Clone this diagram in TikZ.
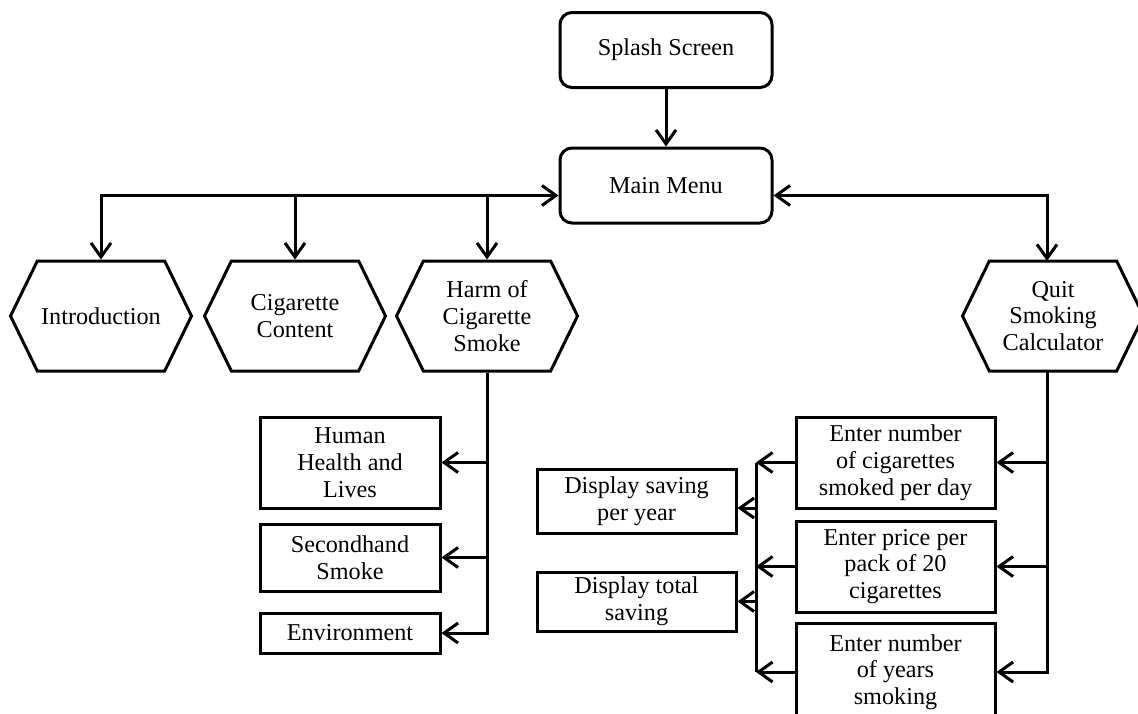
\documentclass[tikz,border=0pt]{standalone}
\usepackage{fontspec}
\setmainfont{Liberation Serif}
\usetikzlibrary{arrows.meta,shapes.symbols}

\begin{document}
\begin{tikzpicture}[x=0.5pt, y=-0.5pt, line width=1.5pt,
    font=\fontsize{12.1}{13.4}\selectfont,
    menubox/.style={draw, rounded corners=6pt, minimum width=106pt, minimum height=37.5pt, align=center, inner sep=0pt},
    hexbox/.style={draw, shape=signal, signal to=west and east, signal pointer angle=128, minimum width=90.5pt, minimum height=55pt, align=center, inner sep=0pt},
    itembox/.style={draw, align=center, inner sep=0pt, minimum width=#1},
    barb/.tip={Straight Barb[length=7pt,width=10pt]},
    arr/.style={-barb}]

            \clip (0,0) rectangle (1138,713);

            % top of the menu
            \node[menubox] (splash) at (666,50) {Splash Screen};
            \node[menubox] (main) at (666,185.5) {Main Menu};
            \draw[arr] (splash.south) -- (main.north);

            % sections
            \node[hexbox] (intro) at (101,316) {Introduction};
            \node[hexbox] (cig) at (295,316) {Cigarette\\Content};
            \node[hexbox] (harm) at (487,316) {Harm of\\Cigarette\\Smoke};
            \node[hexbox] (quit) at (1053,316) {Quit\\Smoking\\Calculator};

            \coordinate (mleft) at ([yshift=-5pt]main.west);
            \coordinate (mright) at ([yshift=-5pt]main.east);
            \coordinate (qtop) at (1047,261);
            \coordinate (qbot) at (1047,371);

            \draw[barb-barb] (mleft) -| (intro.north);
            \draw[arr] (cig.north |- mleft) -- (cig.north);
            \draw[arr] (harm.north |- mleft) -- (harm.north);
            \draw[barb-barb] (mright) -| (qtop);

            % harm of cigarette smoke
            \node[itembox=90pt, minimum height=45.5pt] (hh) at (350,462.5) {Human\\Health and\\Lives};
            \node[itembox=90pt, minimum height=33.5pt] (sh) at (350,557.5) {Secondhand\\Smoke};
            \node[itembox=90pt, minimum height=20pt] (env) at (350,633) {Environment};

            \draw[arr] (harm.south) |- (hh.east);
            \draw[arr] (harm.south) |- (sh.east);
            \draw[arr] (harm.south) |- (env.east);

            % quit smoking calculator
            \node[itembox=99.5pt, minimum height=45.5pt] (en1) at (895.5,462.5) {Enter number\\of cigarettes\\smoked per day};
            \node[itembox=99.5pt, minimum height=45.5pt] (en2) at (895.5,566.5) {Enter price per\\pack of 20\\cigarettes};
            \node[itembox=99.5pt, minimum height=49pt] (en3) at (895.5,672) {Enter number\\of years\\smoking};

            \node[itembox=99.5pt, minimum height=32pt] (ds) at (636.5,501) {Display saving\\per year};
            \node[itembox=99.5pt, minimum height=29.5pt] (dt) at (636.5,601.5) {Display total\\saving};

            \draw[arr] (qbot) |- (en1.east);
            \draw[arr] (qbot) |- (en2.east);
            \draw[arr] (qbot) |- (en3.east);

            \coordinate (lbus) at (756,0);
            \draw (en1.west -| lbus) -- (en3.west -| lbus);
            \draw[arr] (en1.west) -- (en1.west -| lbus);
            \draw[arr] (en2.west) -- (en2.west -| lbus);
            \draw[arr] (en3.west) -- (en3.west -| lbus);
            \draw[arr] (ds.east -| lbus) ++(0,7) -- ([yshift=-3.5pt]ds.east);
            \draw[arr] (dt.east -| lbus) -- (dt.east);

        \end{tikzpicture}
\end{document}
